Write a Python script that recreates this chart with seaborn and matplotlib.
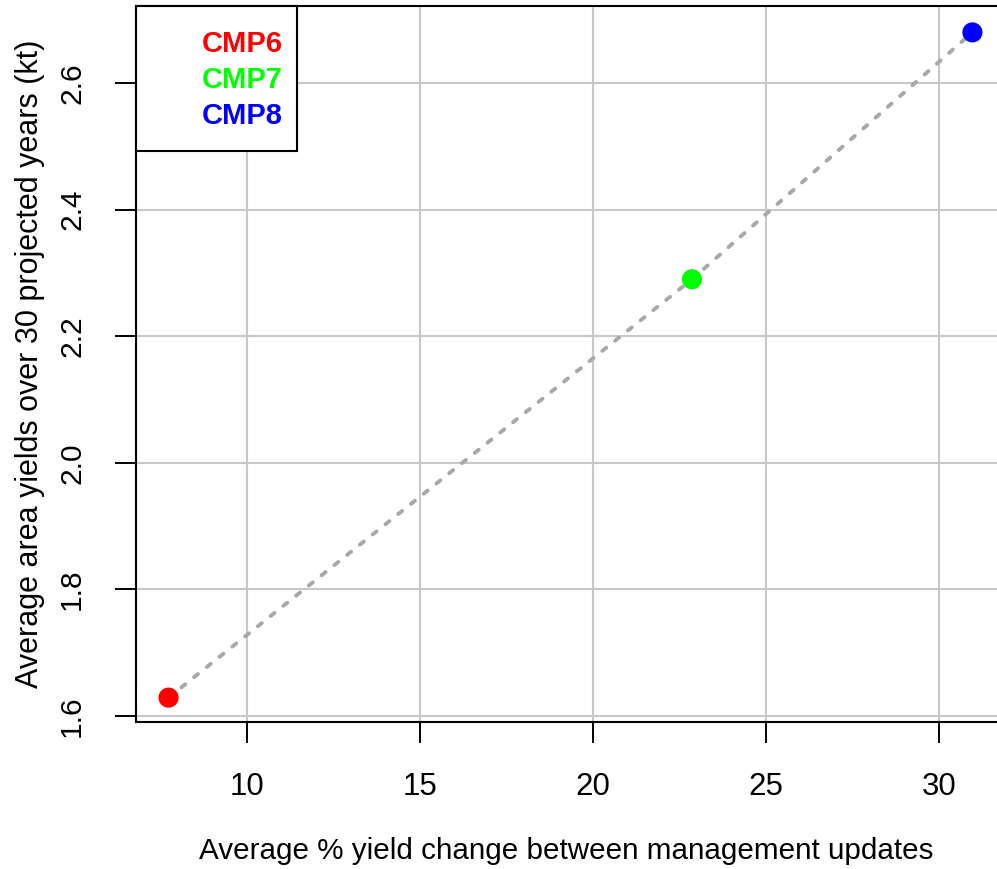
import pandas as pd
import seaborn as sns
import matplotlib.pyplot as plt
from matplotlib.patches import Rectangle

# Data
cmps = ['CMP6', 'CMP7', 'CMP8']
yield_change = [7.74, 22.86, 30.96]
avg_yield = [1.629, 2.29, 2.68]
cmp_colors = ['#FF0000', '#00FF00', '#0000FF']
x_ticks = [10, 15, 20, 25, 30]
y_ticks = [1.6, 1.8, 2.0, 2.2, 2.4, 2.6]

df = pd.DataFrame({'cmp': cmps, 'change': yield_change, 'yield': avg_yield})

sns.set_style('white')
plt.rcParams['font.family'] = ['Liberation Sans', 'DejaVu Sans']
plt.rcParams['text.color'] = 'black'
plt.rcParams['axes.labelcolor'] = 'black'

fig = plt.figure(figsize=(9.97, 8.69), dpi=100)
ax = fig.add_axes([136 / 997, 1 - 722 / 869, 1 - 136 / 997, 716 / 869])

# Grid first so it sits under the marks
for xv in x_ticks:
    ax.axvline(xv, color='#C8C8C8', lw=1.5, zorder=0)
for yv in y_ticks:
    ax.axhline(yv, color='#C8C8C8', lw=1.5, zorder=0)

sns.lineplot(data=df, x='change', y='yield', ax=ax, color='#A8A8A8',
             lw=2.8, linestyle=(0, (1.3, 2.9)), dash_capstyle='round', zorder=2)
sns.scatterplot(data=df, x='change', y='yield', hue='cmp', palette=cmp_colors,
                s=210, edgecolor='none', legend=False, ax=ax, zorder=3)

ax.set_xlim(6.80, 31.67)
ax.set_ylim(1.5905, 2.7217)
ax.set_xticks(x_ticks)
ax.set_yticks(y_ticks)
ax.set_xticklabels([str(v) for v in x_ticks], fontsize=22.5)
ax.set_yticklabels(['%.1f' % v for v in y_ticks], rotation=90, va='center',
                   fontsize=21.5)
ax.tick_params(axis='both', direction='out', length=15, width=1.4,
               pad=21, colors='black', bottom=True, left=True)

for side in ['left', 'top', 'bottom']:
    ax.spines[side].set_color('black')
    ax.spines[side].set_linewidth(1.5)
ax.spines['right'].set_visible(False)

ax.set_xlabel('Average % yield change between management updates',
              fontsize=21.3, labelpad=25)
ax.set_ylabel('Average area yields over 30 projected years (kt)',
              fontsize=22, labelpad=9)

# Legend box with coloured labels
ax.add_patch(Rectangle((0, 0.7975), 0.187, 0.2025, transform=ax.transAxes,
                       facecolor='white', edgecolor='black', lw=1.5,
                       zorder=5, clip_on=False))
for i, (name, col) in enumerate(zip(cmps, cmp_colors)):
    ax.text(0.1707, 0.9469 - i * 0.0503, name, transform=ax.transAxes,
            color=col, fontsize=21, fontweight='bold', ha='right',
            va='center', zorder=6)

fig.savefig('out.png', dpi=100)
